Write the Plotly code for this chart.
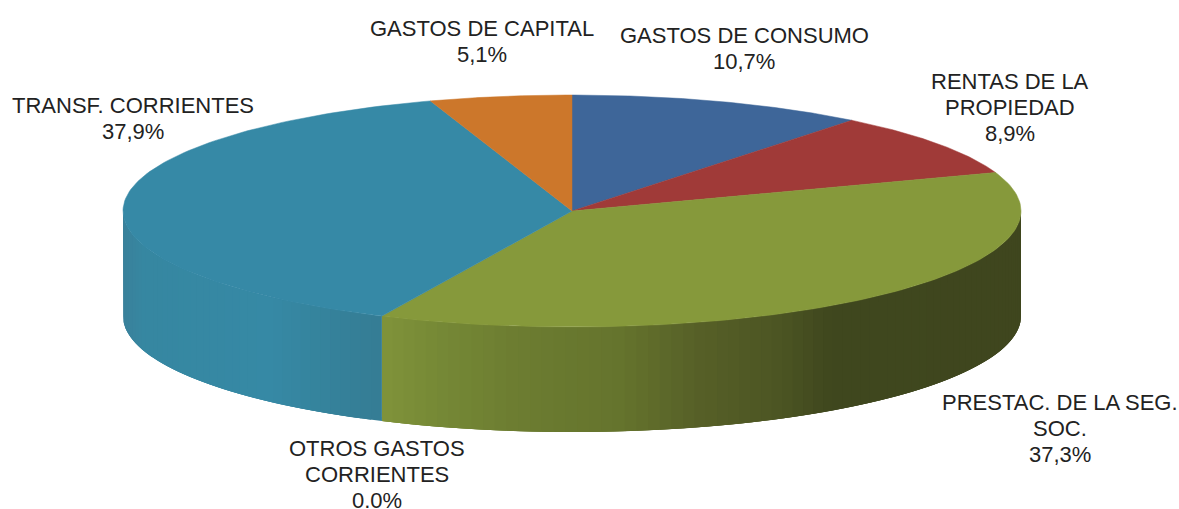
import numpy as np
import plotly.graph_objects as go

# Data (clockwise from 12 o'clock)
categories = ["GASTOS DE CONSUMO", "RENTAS DE LA<br>PROPIEDAD", "PRESTAC. DE LA SEG.<br>SOC.",
              "OTROS GASTOS<br>CORRIENTES", "TRANSF. CORRIENTES", "GASTOS DE CAPITAL"]
values = [10.7, 8.9, 37.3, 0.0, 37.9, 5.1]
value_labels = ["10,7%", "8,9%", "37,3%", "0.0%", "37,9%", "5,1%"]

# Styling
top_colors = ["#3E6699", "#A03A38", "#86993B", "#3689A6", "#3689A6", "#CC772B"]
wall_stops = {
    2: [(381, "#80933A"), (450, "#748735"), (520, "#6C7C31"), (620, "#65742D"),
        (700, "#565F27"), (780, "#4C5523"), (830, "#3F471E"), (1021, "#3F461E")],
    4: [(123, "#3A819B"), (145, "#3687A1"), (270, "#3689A5"), (330, "#35829B"), (381, "#357C94")],
}
CX, CY, RX, RY, DEPTH = 572.0, 211.0, 449.0, 116.0, 105.0
LINE_STEP = 26
# x centre and y centre of the first line of each label
label_pos = [(744, 35), (1010, 81), (1060, 402), (377, 448), (133, 105), (482, 28)]


def rgb(h):
    return np.array([int(h[i:i + 2], 16) for i in (1, 3, 5)], float)


def stop_color(stops, x):
    xs = [s[0] for s in stops]
    cs = np.array([rgb(s[1]) for s in stops])
    c = [np.interp(x, xs, cs[:, k]) for k in range(3)]
    return "rgb({:.0f},{:.0f},{:.0f})".format(*c)


def ell(deg):
    a = np.radians(deg)
    return CX + RX * np.sin(a), CY - RY * np.cos(a)


fig = go.Figure()
bounds = np.concatenate([[0], np.cumsum(values)]) / sum(values) * 360

# Side walls: each strip overlaps the next so no seams show through
for i, stops in wall_stops.items():
    a0, a1 = max(bounds[i], 90), min(bounds[i + 1], 270)
    n = max(int((a1 - a0) / 1.5), 1)
    edges = np.linspace(a0, a1, n + 1)
    step = edges[1] - edges[0]
    for b0 in edges[:-1]:
        aa = np.linspace(b0, min(b0 + 3 * step, a1), 6)
        x, y = ell(aa)
        px = list(x) + list(x[::-1]) + [x[0]]
        py = list(y) + list((y + DEPTH)[::-1]) + [y[0]]
        xm = ell(b0 + step / 2)[0]
        col = stop_color(stops, xm)
        fig.add_trace(go.Scatter(x=px, y=py, mode="lines", fill="toself", fillcolor=col,
                                 line=dict(width=0), hoverinfo="skip", showlegend=False))

# Top faces
for i in range(len(values)):
    if values[i] <= 0:
        continue
    aa = np.linspace(bounds[i], bounds[i + 1], 120)
    x, y = ell(aa)
    px = [CX] + list(x) + [CX]
    py = [CY] + list(y) + [CY]
    fig.add_trace(go.Scatter(x=px, y=py, mode="lines", fill="toself", fillcolor=top_colors[i],
                             line=dict(color=top_colors[i], width=0.5), hoverinfo="skip",
                             showlegend=False, name=categories[i]))

# Labels, one annotation per line to control the line spacing
for c, v, (lx, ly) in zip(categories, value_labels, label_pos):
    for k, part in enumerate(c.split("<br>") + [v]):
        fig.add_annotation(x=lx, y=ly + k * LINE_STEP, xref="x", yref="y", text=part, showarrow=False,
                           align="center", xanchor="center", yanchor="middle",
                           font=dict(family="Liberation Sans, Arial", size=22, color="#222222"))

fig.update_layout(
    width=1179, height=509, margin=dict(l=0, r=0, t=0, b=0),
    paper_bgcolor="white", plot_bgcolor="white", showlegend=False,
    xaxis=dict(range=[0, 1179], visible=False, fixedrange=True),
    yaxis=dict(range=[509, 0], visible=False, fixedrange=True),
)
fig.write_html("out.html", config={"displayModeBar": False},
               post_script="document.body.style.margin='0';document.body.style.overflow='hidden';")
